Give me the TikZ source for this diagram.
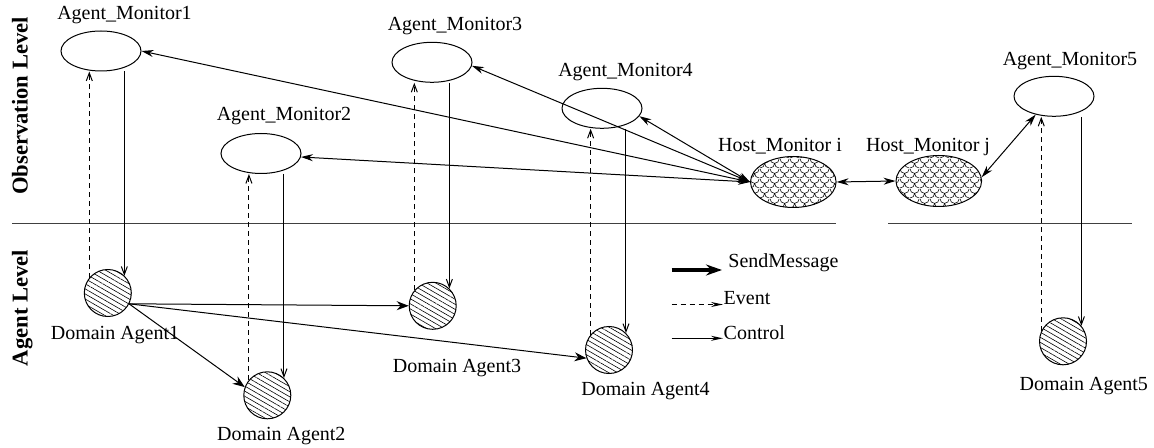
\documentclass[tikz,border=0pt]{standalone}
\usepackage{fontspec}
\setmainfont{Liberation Serif}
\usetikzlibrary{arrows.meta,shapes.geometric,patterns,patterns.meta}

% scalloped fill for the host monitors
\pgfdeclarepatternformonly{fishscale}{\pgfqpoint{0pt}{0pt}}{\pgfqpoint{5pt}{5pt}}{\pgfqpoint{5pt}{5pt}}{%
  \pgfsetlinewidth{0.3pt}
  \pgfpathmoveto{\pgfqpoint{0pt}{5pt}}
  \pgfpatharc{180}{360}{2.5pt}
  \pgfpathmoveto{\pgfqpoint{0pt}{0pt}}
  \pgfpatharc{270}{360}{2.5pt}
  \pgfpathmoveto{\pgfqpoint{2.5pt}{2.5pt}}
  \pgfpatharc{180}{270}{2.5pt}
  \pgfusepath{stroke}
}

\begin{document}
\begin{tikzpicture}[
  x=0.5pt, y=-0.5pt,
  lbl/.style={font=\fontsize{10}{12}\selectfont, inner sep=0pt, anchor=base},
  lvl/.style={font=\fontsize{11.3}{13}\selectfont\bfseries, rotate=90, inner sep=0pt, anchor=base},
  monitor/.style={ellipse, draw, line width=0.5pt, minimum width=40pt, minimum height=20pt},
  hostmon/.style={ellipse, draw, line width=0.5pt, minimum width=42.8pt, minimum height=25.5pt, pattern=fishscale},
  dagent/.style={circle, draw, line width=0.5pt, minimum size=23.5pt,
    pattern={Lines[angle=-30,distance=2.2pt,line width=0.3pt]}},
  levelline/.style={draw=black!75, line width=0.5pt},
  sendmsg/.style={-{Stealth[length=6pt,width=4.5pt]}, line width=0.5pt},
  hostlink/.style={{Stealth[length=6pt,width=3.5pt]}-{Stealth[length=6pt,width=3.5pt]}, line width=0.5pt},
  event/.style={-{Straight Barb[length=4pt,width=3pt]}, dash pattern=on 2.5pt off 2pt, line width=0.5pt},
  control/.style={-{Straight Barb[length=4pt,width=3pt]}, line width=0.5pt},
  sendleg/.style={-{Stealth[length=8pt,width=5.5pt]}, line width=1.6pt},
  eventleg/.style={-{Stealth[length=6pt,width=2.5pt]}, dash pattern=on 2.5pt off 2pt, line width=0.5pt},
  controlleg/.style={-{Stealth[length=6pt,width=2.5pt]}, line width=0.5pt}
]
\useasboundingbox (0,0) rectangle (1154,448);

\node[lvl] (tobs) at (27.5,106) {Observation Level};
\node[lvl] (tagl) at (27.5,308) {Agent Level};
\draw[levelline] (12,224) -- (836,224);
\draw[levelline] (888,224) -- (1132,224);

\node[monitor] (am1) at (101,51) {};
\node[monitor] (am2) at (261,153.5) {};
\node[monitor] (am3) at (432,62.3) {};
\node[monitor] (am4) at (602,108.3) {};
\node[monitor] (am5) at (1054,96.3) {};
\node[hostmon] (hmi) at (793.3,182) {};
\node[hostmon] (hmj) at (938.8,181) {};
\node[dagent] (da1) at (107.8,293) {};
\node[dagent] (da2) at (267.3,395.3) {};
\node[dagent] (da3) at (432.7,305.8) {};
\node[dagent] (da4) at (609,350) {};
\node[dagent] (da5) at (1063,341.3) {};

\node[lbl] (tam1) at (124.5,20) {Agent\_Monitor1};
\node[lbl] (tam2) at (284,120.7) {Agent\_Monitor2};
\node[lbl] (tam3) at (455,30.7) {Agent\_Monitor3};
\node[lbl] (tam4) at (625.5,76.7) {Agent\_Monitor4};
\node[lbl] (tam5) at (1070,66) {Agent\_Monitor5};
\node[lbl] (thmi) at (780,151.7) {Host\_Monitor i};
\node[lbl] (thmj) at (928,151.7) {Host\_Monitor j};
\node[lbl] (tda1) at (115,339) {Domain Agent1};
\node[lbl] (tda2) at (281.3,440.7) {Domain Agent2};
\node[lbl] (tda3) at (457,372.3) {Domain Agent3};
\node[lbl] (tda4) at (645.5,395.7) {Domain Agent4};
\node[lbl] (tda5) at (1083.8,390) {Domain Agent5};

% events up, control down
\draw[event] (da1.141) -- (da1.141 |- am1.south);
\draw[control] (da1.46 |- am1.south) -- (da1.46);
\draw[event] (da2.140) -- (da2.140 |- am2.south);
\draw[control] (da2.46 |- am2.south) -- (da2.46);
\draw[event] (da3.140) -- (da3.140 |- am3.south);
\draw[control] (da3.46 |- am3.south) -- (da3.46);
\draw[event] (da4.140) -- (da4.140 |- am4.south);
\draw[control] (da4.45 |- am4.south) -- (da4.45);
\draw[event] (da5.155) -- (da5.155 |- am5.south);
\draw[control] (da5.40 |- am5.south) -- (da5.40);

% host monitor links
\draw[hostlink] (hmi.west) -- (am1.east);
\draw[hostlink] (hmi.west) -- (am2.-5);
\draw[hostlink] (hmi.west) -- (am3.-5);
\draw[hostlink] (hmi.west) -- (am4.-12);
\draw[hostlink] (hmi.east) -- (hmj.west);
\draw[hostlink] (hmj.5) -- (am5.225);

% messages between domain agents
\draw[sendmsg] (da1.-27) -- (da3.west);
\draw[sendmsg] (da1.-27) -- (da2.160);
\draw[sendmsg] (da1.-27) -- (da4.200);

% legend
\coordinate (ls0) at (671.5,270);
\coordinate (ls1) at (722,270);
\coordinate (le0) at (671.5,304.5);
\coordinate (le1) at (723,304.5);
\coordinate (lc0) at (671.5,338.3);
\coordinate (lc1) at (723,338.3);
\draw[sendleg] (ls0) -- (ls1);
\draw[eventleg] (le0) -- (le1);
\draw[controlleg] (lc0) -- (lc1);
\node[lbl, anchor=base west] (tsend) at (728,268) {SendMessage};
\node[lbl, anchor=base west] (tevent) at (723.3,305) {Event};
\node[lbl, anchor=base west] (tctrl) at (723.3,339) {Control};

\end{tikzpicture}
\end{document}
